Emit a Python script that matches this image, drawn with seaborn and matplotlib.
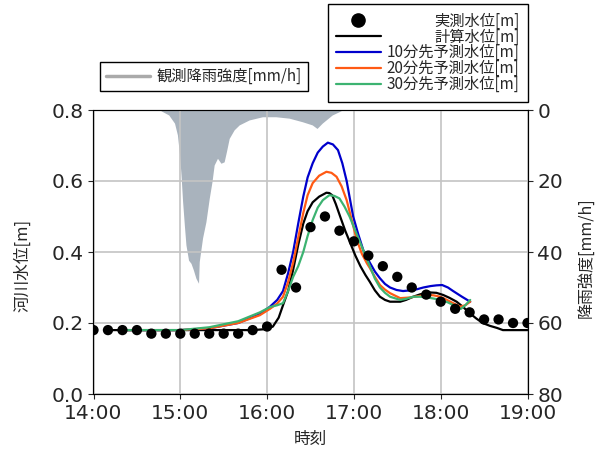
import numpy as np
import pandas as pd
import matplotlib
matplotlib.use("Agg")
import matplotlib.pyplot as plt
import matplotlib.dates as mdates
from matplotlib.lines import Line2D
import seaborn as sns

# ---------------- data (minutes after 14:00) ----------------
base = pd.Timestamp("2020-07-01 14:00")

obs_min = list(range(0, 301, 10))
obs_val = [0.18, 0.18, 0.18, 0.18, 0.17, 0.17, 0.17, 0.17, 0.17, 0.17, 0.17,
           0.18, 0.19, 0.35, 0.30, 0.47, 0.50, 0.46, 0.43, 0.39, 0.36, 0.33,
           0.30, 0.28, 0.26, 0.24, 0.23, 0.21, 0.21, 0.20, 0.20]

calc_min = [10, 30, 60, 90, 110, 120, 124, 128, 131, 134.5, 138, 141.5, 145, 148,
            151.5, 156, 161, 163, 165, 167.5, 170.5, 174, 177.5, 181, 184.5, 188,
            191, 194.5, 198, 201.5, 205, 212, 216, 221, 226, 232.7, 237, 241.7,
            246, 251, 255.5, 260, 264.5, 269, 274, 279, 283, 300]
calc_val = [0.18, 0.18, 0.18, 0.18, 0.18, 0.183, 0.19, 0.215, 0.25, 0.29, 0.35,
            0.42, 0.48, 0.515, 0.54, 0.556, 0.567, 0.566, 0.56, 0.535, 0.50, 0.46,
            0.425, 0.39, 0.36, 0.335, 0.316, 0.292, 0.274, 0.265, 0.26, 0.26,
            0.265, 0.274, 0.281, 0.286, 0.285, 0.279, 0.271, 0.26, 0.245, 0.228,
            0.213, 0.20, 0.192, 0.186, 0.18, 0.18]

p10_min = [22, 60, 80, 100, 115, 122, 127, 131, 134.5, 138, 141.5, 145, 148,
           151.5, 155, 158.5, 162, 165.5, 169, 172, 175, 177, 179.5, 183, 186.5,
           191, 194.5, 198, 201.5, 205, 209.5, 214, 219, 223.5, 228, 233, 237,
           241, 245, 248.6, 254.7, 260.4]
p10_val = [0.18, 0.18, 0.185, 0.20, 0.225, 0.246, 0.265, 0.29, 0.34, 0.40, 0.48,
           0.556, 0.61, 0.65, 0.68, 0.697, 0.708, 0.703, 0.687, 0.65, 0.60, 0.555,
           0.50, 0.45, 0.405, 0.37, 0.345, 0.326, 0.31, 0.30, 0.293, 0.29, 0.292,
           0.295, 0.30, 0.304, 0.306, 0.307, 0.30, 0.29, 0.274, 0.26]

p20_min = [22, 60, 80, 100, 115, 122, 127, 131, 134.5, 138, 141.5, 145, 148,
           151.5, 156, 161, 164.5, 168, 171.5, 175, 178.5, 182, 185.5, 189, 191,
           194.5, 198, 201.5, 205, 212, 219, 225, 230.5, 235, 239.7, 243, 246.6,
           250, 253.5, 257, 260.4]
p20_val = [0.18, 0.18, 0.185, 0.20, 0.222, 0.24, 0.255, 0.274, 0.315, 0.37, 0.44,
           0.51, 0.56, 0.594, 0.615, 0.626, 0.623, 0.612, 0.585, 0.546, 0.49,
           0.434, 0.395, 0.368, 0.355, 0.33, 0.307, 0.294, 0.284, 0.27, 0.272,
           0.276, 0.279, 0.278, 0.274, 0.268, 0.26, 0.253, 0.246, 0.25, 0.26]

p30_min = [22, 60, 80, 100, 115, 122, 127, 131, 134.5, 138, 141.5, 145, 148,
           151.5, 155, 158.5, 163, 166.5, 170, 173.5, 177, 181, 184.5, 188, 191,
           194.5, 198, 201.5, 205, 212, 216, 221, 226, 230.5, 235, 240, 245, 249,
           254, 257, 260.4]
p30_val = [0.18, 0.18, 0.188, 0.205, 0.23, 0.245, 0.25, 0.256, 0.29, 0.33, 0.36,
           0.40, 0.445, 0.49, 0.525, 0.546, 0.56, 0.558, 0.551, 0.528, 0.50, 0.46,
           0.425, 0.39, 0.36, 0.325, 0.30, 0.285, 0.274, 0.265, 0.268, 0.274,
           0.274, 0.272, 0.269, 0.265, 0.258, 0.25, 0.24, 0.25, 0.265]

rain_min = [46, 47, 52, 56, 58, 59.5, 60.5, 61.6, 62.8, 63.9, 65.7, 67.4, 69, 70.8,
            72.6, 73.1, 75.4, 77.7, 80, 81.9, 83.4, 85.7, 88.1, 90.3, 91.9, 93.8,
            97.2, 100.7, 107.6, 116.8, 126, 135.2, 144.3, 151.2, 154.5, 158.1,
            165, 169.7, 172]
rain_val = [0, 0.3, 1.4, 3.7, 7, 12.7, 18.3, 25.8, 32.4, 38, 42.3, 43.2, 45, 47.4,
            48.8, 42.7, 36, 31.5, 24.9, 20.2, 15.5, 13.6, 15, 14.6, 11.7, 8,
            5.6, 4.2, 2.8, 1.9, 1.9, 2.3, 3.3, 4.2, 5.2, 3.7, 1.4, 0.5, 0]

labels = ["実測水位[m]", "計算水位[m]", "10分先予測水位[m]",
          "20分先予測水位[m]", "30分先予測水位[m]"]
rain_label = "観測降雨強度[mm/h]"
xlabel = "時刻"
ylabel_left = "河川水位[m]"
ylabel_right = "降雨強度[mm/h]"


def to_time(mins):
    return [base + pd.Timedelta(minutes=float(m)) for m in mins]


# ---------------- figure ----------------
sns.set_style("ticks")
plt.rcParams['font.family'] = ['DejaVu Sans']
JP = ['Noto Sans CJK JP', 'DejaVu Sans']

fig = plt.figure(figsize=(5.99, 4.5), dpi=100)
ax = fig.add_axes([93.5 / 599, 56 / 450, (527.5 - 93.5) / 599, 284 / 450])
ax2 = ax.twinx()

# rain (right axis, inverted)
ax2.fill_between(to_time(rain_min), 0, rain_val, color="#a9b3bd", lw=0)
ax2.set_ylim(80, 0)
ax2.set_yticks([0, 20, 40, 60, 80])
ax2.tick_params(labelsize=14.5)
ax2.set_ylabel(ylabel_right, fontsize=11.5, family=JP)
ax2.yaxis.set_label_coords((578 - 93.5) / 434, (394 - 258) / 284)

ax.set_zorder(ax2.get_zorder() + 1)
ax.patch.set_visible(False)

df_obs = pd.DataFrame({"t": to_time(obs_min), "v": obs_val})
sns.scatterplot(data=df_obs, x="t", y="v", ax=ax, color="black", s=55,
                edgecolor="none", zorder=5, legend=False)
series = [(calc_min, calc_val, "black"), (p10_min, p10_val, "#0000cc"),
          (p20_min, p20_val, "#ff5a14"), (p30_min, p30_val, "#3cb371")]
for mm, vv, c in series:
    d = pd.DataFrame({"t": to_time(mm), "v": vv})
    sns.lineplot(data=d, x="t", y="v", ax=ax, color=c, lw=1.6, legend=False,
                 zorder=4)

ax.set_xlim(base, base + pd.Timedelta(hours=5))
ax.set_ylim(0, 0.8)
ax.set_yticks([0.0, 0.2, 0.4, 0.6, 0.8])
ax.set_yticklabels(["0.0", "0.2", "0.4", "0.6", "0.8"])
ax.xaxis.set_major_locator(mdates.HourLocator())
ax.xaxis.set_major_formatter(mdates.DateFormatter("%H:%M"))
ax.tick_params(labelsize=14.5)
ax.grid(True, color="#c4c4c4", lw=1.2)
ax.set_xlabel(xlabel, fontsize=12, family=JP)
ax.xaxis.set_label_coords(0.5, -(431 - 394) / 284)
ax.set_ylabel(ylabel_left, fontsize=12, family=JP)
ax.yaxis.set_label_coords((31 - 93.5) / 434, (394 - 265) / 284)
for s in ax.spines.values():
    s.set_color("black")

# ---------------- legends ----------------
handles = [Line2D([], [], ls="none", marker="o", color="black", markersize=9.5),
           Line2D([], [], color="black", lw=1.6),
           Line2D([], [], color="#0000cc", lw=1.6),
           Line2D([], [], color="#ff5a14", lw=1.6),
           Line2D([], [], color="#3cb371", lw=1.6)]
leg = fig.legend(handles, labels, loc="upper right",
                 bbox_to_anchor=(528 / 599, 1 - 4 / 450), borderaxespad=0,
                 prop={"family": JP, "size": 11}, frameon=True, fancybox=False,
                 edgecolor="black", framealpha=1, labelspacing=-0.07,
                 handlelength=2.9, handletextpad=0.4, borderpad=0.55)
leg.get_frame().set_linewidth(1.0)

leg2 = fig.legend([Line2D([], [], color="#aaaaaa", lw=2.5)], [rain_label],
                  loc="upper left", bbox_to_anchor=(100 / 599, 1 - 62 / 450),
                  borderaxespad=0,
                  prop={"family": JP, "size": 11}, frameon=True, fancybox=False,
                  edgecolor="black", framealpha=1, handlelength=2.9,
                  handletextpad=0.4, borderpad=0.4)
leg2.get_frame().set_linewidth(1.0)

# right-align the texts of the main legend
fig.canvas.draw()
r = fig.canvas.get_renderer()
texts = leg.get_texts()
widths = [t.get_window_extent(r).width for t in texts]
mw = max(widths)
for t, w in zip(texts, widths):
    t.set_position((mw - w, 0))

fig.savefig("out.png", dpi=100)
